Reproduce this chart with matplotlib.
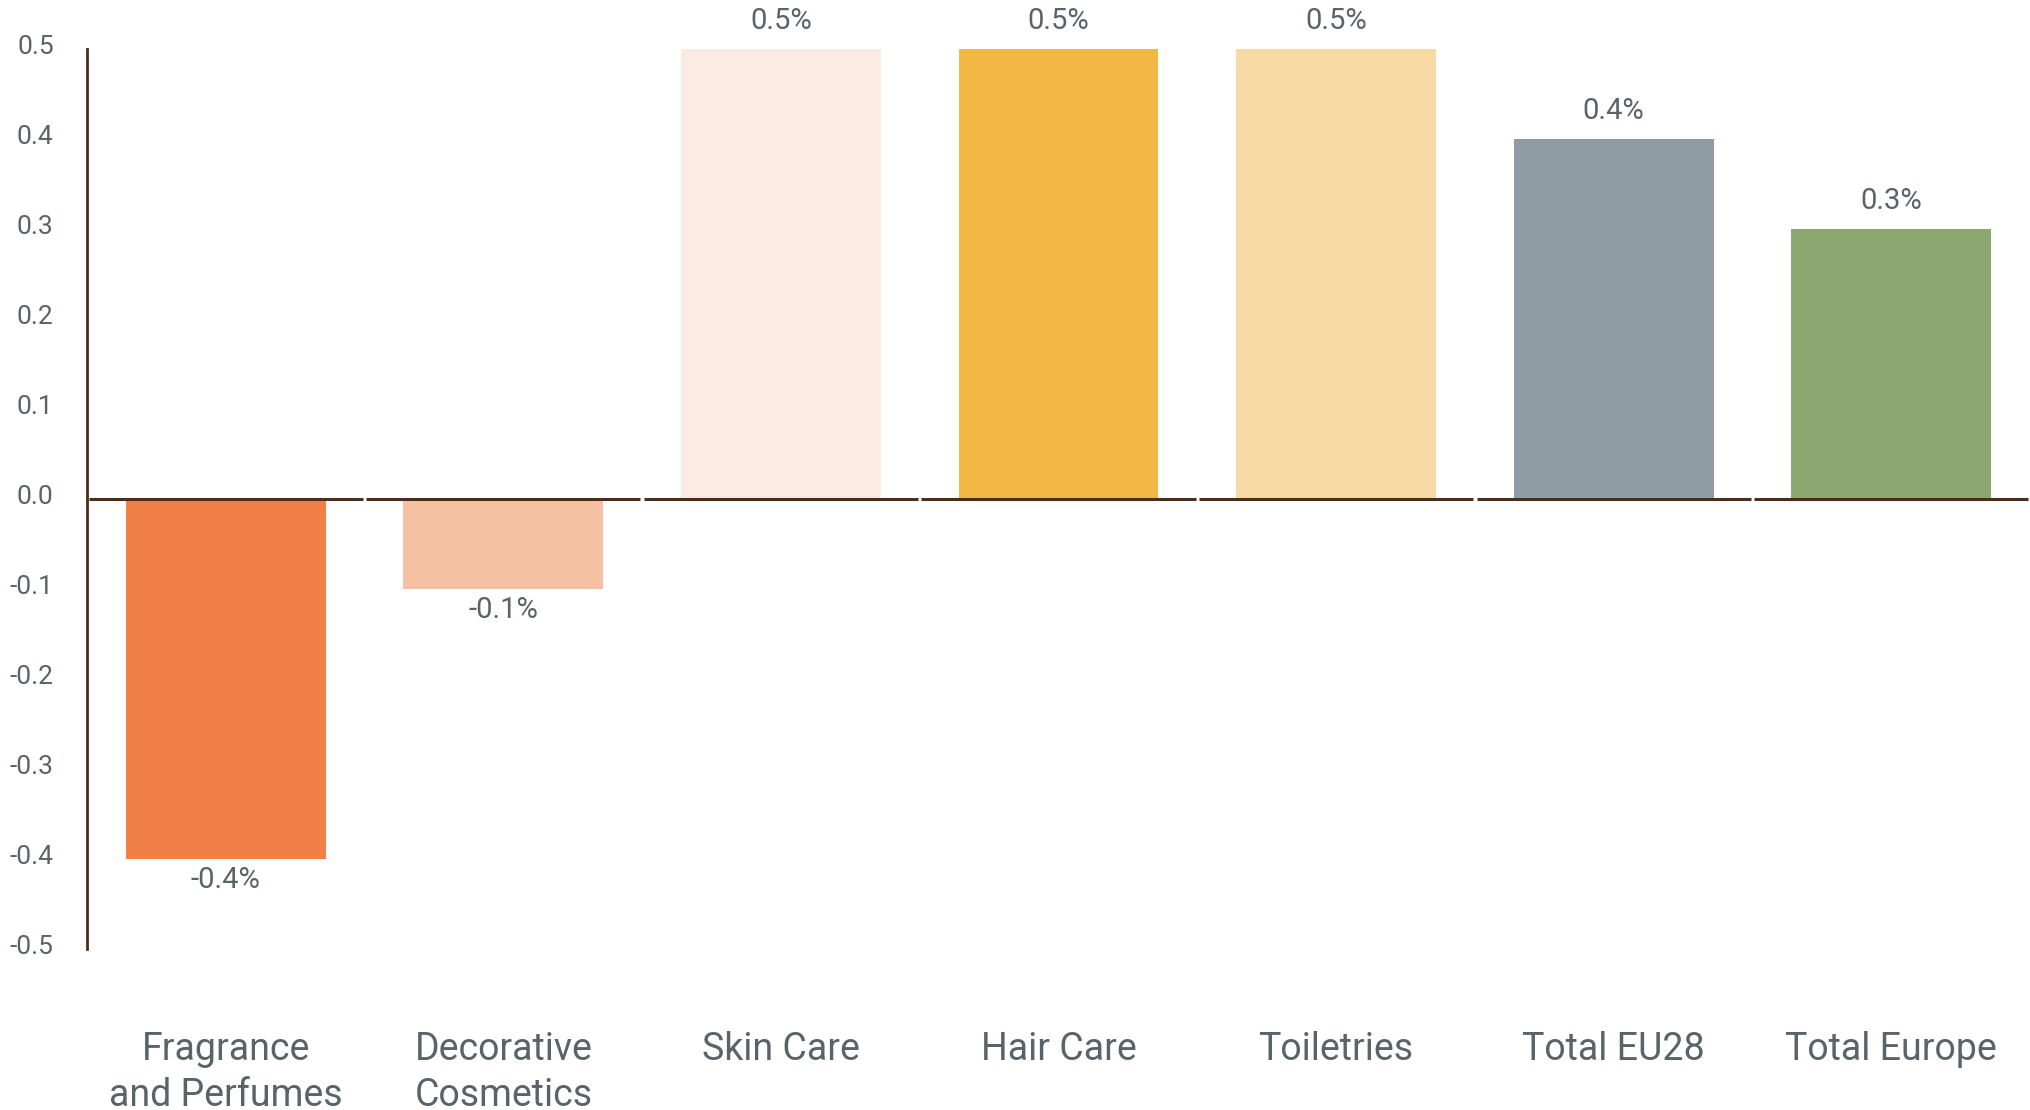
import numpy as np
import matplotlib
matplotlib.use('Agg')
import matplotlib.pyplot as plt
import matplotlib.transforms as mtransforms

plt.rcParams['font.family'] = ['Roboto', 'DejaVu Sans']

kategorie = ['Fragrance\nand Perfumes', 'Decorative\nCosmetics', 'Skin Care',
             'Hair Care', 'Toiletries', 'Total EU28', 'Total Europe']
wartosci = [-0.4, -0.1, 0.5, 0.5, 0.5, 0.4, 0.3]
etykiety = ['-0.4%', '-0.1%', '0.5%', '0.5%', '0.5%', '0.4%', '0.3%']
kolory = ['#f08048', '#f6c0a2', '#fcebe2', '#f2b843', '#f7d9a3', '#909ca4', '#8aa870']
y_ticks = [0.5, 0.4, 0.3, 0.2, 0.1, 0.0, -0.1, -0.2, -0.3, -0.4, -0.5]

tekst = '#59636a'
braz = '#4b2e1a'

fig = plt.figure(figsize=(20.3, 11.1), dpi=100)
ax = fig.add_axes([87 / 2030, 161 / 1110, 1 - 87 / 2030, 900 / 1110])

x = np.arange(len(kategorie))
ax.bar(x, wartosci, width=0.72, color=kolory, zorder=2)

# linia zera z przerwami miedzy kategoriami
przerwa = 0.006
ax.hlines(np.zeros(len(x)), x - 0.5 + przerwa, x + 0.5 - przerwa,
          color=braz, linewidth=2.2, zorder=3)

for xi, v, e in zip(x, wartosci, etykiety):
    if v >= 0:
        ax.annotate(e, (xi, v), xytext=(0, 10), textcoords='offset points',
                    ha='center', va='bottom', fontsize=21, color=tekst)
    else:
        ax.annotate(e, (xi, v), xytext=(0, -5), textcoords='offset points',
                    ha='center', va='top', fontsize=21, color=tekst)

ax.set_xlim(-0.5, 6.5)
ax.set_ylim(-0.5, 0.5)
ax.set_yticks(y_ticks)
ax.set_yticklabels([f'{t:.1f}' for t in y_ticks])
ax.set_xticks(x)
ax.set_xticklabels(kategorie, linespacing=1.3)

ax.tick_params(axis='y', length=0, pad=24, labelsize=19, labelcolor=tekst)
ax.tick_params(axis='x', length=0, pad=59, labelsize=27, labelcolor=tekst)

przesun = mtransforms.ScaledTranslation(0, 4 / 100, fig.dpi_scale_trans)
for lab in ax.get_yticklabels():
    lab.set_transform(lab.get_transform() + przesun)

for s in ['top', 'right', 'bottom']:
    ax.spines[s].set_visible(False)
ax.spines['left'].set_color(braz)
ax.spines['left'].set_linewidth(2.0)

plt.savefig('out.png', dpi=100)
